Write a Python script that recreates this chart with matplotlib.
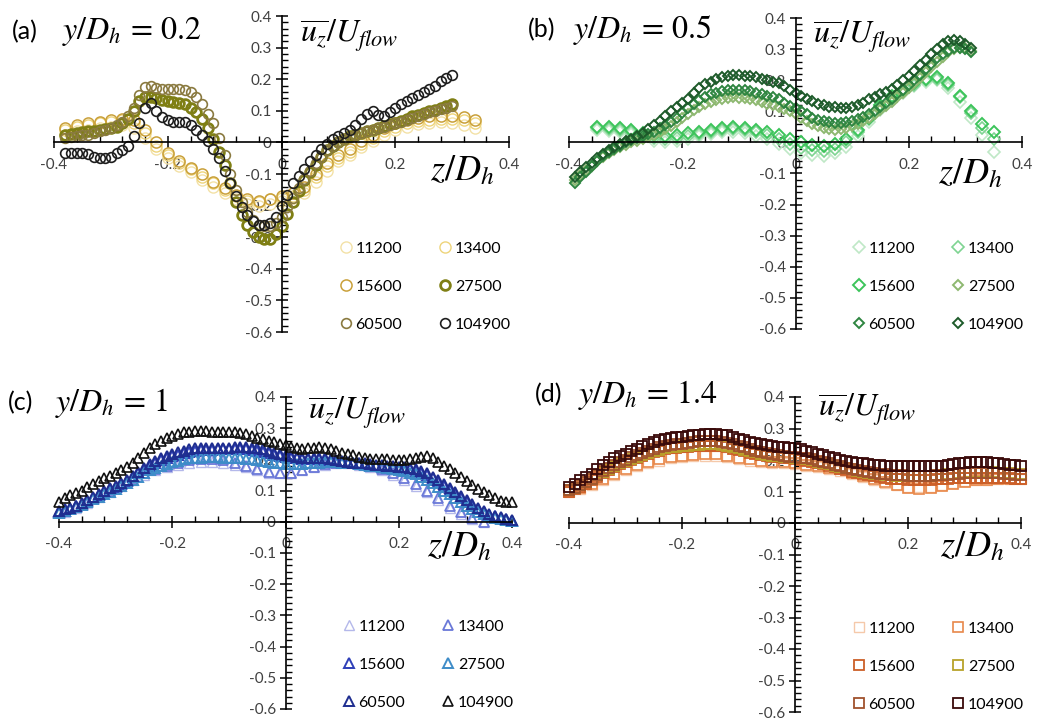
import numpy as np
import matplotlib
matplotlib.use('Agg')
import matplotlib.pyplot as plt
from matplotlib.ticker import MultipleLocator, FuncFormatter

plt.rcParams['font.family'] = ['Lato', 'DejaVu Sans']
plt.rcParams['mathtext.fontset'] = 'stix'

labels = ['11200', '13400', '15600', '27500', '60500', '104900']

# z/Dh sampling positions (every 0.01)
Z = [-0.40, -0.39, -0.38, -0.37, -0.36, -0.35, -0.34, -0.33, -0.32, -0.31,
     -0.30, -0.29, -0.28, -0.27, -0.26, -0.25, -0.24, -0.23, -0.22, -0.21,
     -0.20, -0.19, -0.18, -0.17, -0.16, -0.15, -0.14, -0.13, -0.12, -0.11,
     -0.10, -0.09, -0.08, -0.07, -0.06, -0.05, -0.04, -0.03, -0.02, -0.01,
     0.00, 0.01, 0.02, 0.03, 0.04, 0.05, 0.06, 0.07, 0.08, 0.09,
     0.10, 0.11, 0.12, 0.13, 0.14, 0.15, 0.16, 0.17, 0.18, 0.19,
     0.20, 0.21, 0.22, 0.23, 0.24, 0.25, 0.26, 0.27, 0.28, 0.29,
     0.30, 0.31, 0.32, 0.33, 0.34, 0.35, 0.36, 0.37, 0.38, 0.39, 0.40]

# ---------------- (a) y/Dh = 0.2 ----------------
za = Z[2:71]          # -0.38 .. 0.30
za_s = Z[2:75:2]      # -0.38 .. 0.34, sparse runs
a_11200 = [0.025, 0.035, 0.04, 0.045, 0.05, 0.055, 0.045, 0.015, -0.02, -0.05, -0.075, -0.095,
           -0.12, -0.14, -0.16, -0.18, -0.195, -0.2, -0.195, -0.185, -0.175, -0.16, -0.125, -0.09,
           -0.06, -0.04, -0.015, 0.005, 0.025, 0.04, 0.05, 0.058, 0.062, 0.064, 0.062, 0.055, 0.045]
a_13400 = [0.04, 0.05, 0.055, 0.06, 0.065, 0.07, 0.06, 0.03, -0.01, -0.04, -0.065, -0.085,
           -0.11, -0.13, -0.15, -0.17, -0.185, -0.19, -0.18, -0.175, -0.17, -0.15, -0.11, -0.075,
           -0.05, -0.03, -0.005, 0.015, 0.035, 0.05, 0.06, 0.068, 0.072, 0.075, 0.075, 0.07, 0.06]
a_15600 = [0.045, 0.055, 0.06, 0.065, 0.07, 0.075, 0.07, 0.04, 0.0, -0.035, -0.06, -0.08,
           -0.1, -0.125, -0.145, -0.165, -0.18, -0.185, -0.18, -0.17, -0.16, -0.14, -0.1, -0.065,
           -0.04, -0.02, 0.005, 0.025, 0.045, 0.06, 0.07, 0.078, 0.082, 0.085, 0.085, 0.08, 0.07]
a_27500 = [0.025, 0.027, 0.03, 0.032, 0.035, 0.037, 0.04, 0.042, 0.045, 0.05,
           0.06, 0.075, 0.1, 0.13, 0.145, 0.145, 0.14, 0.135, 0.13, 0.128,
           0.125, 0.12, 0.11, 0.095, 0.075, 0.045, 0.01, -0.03, -0.07, -0.13,
           -0.19, -0.23, -0.26, -0.285, -0.3, -0.307, -0.305, -0.29, -0.265, -0.225,
           -0.19, -0.155, -0.12, -0.095, -0.07, -0.045, -0.025, -0.01, 0.0, 0.012,
           0.02, 0.025, 0.03, 0.035, 0.04, 0.046, 0.052, 0.057, 0.062, 0.068,
           0.075, 0.082, 0.088, 0.093, 0.098, 0.104, 0.11, 0.115, 0.12]
a_60500 = [0.015, 0.017, 0.02, 0.022, 0.025, 0.03, 0.035, 0.04, 0.045, 0.055,
           0.065, 0.085, 0.11, 0.15, 0.175, 0.178, 0.172, 0.168, 0.168, 0.168,
           0.168, 0.165, 0.16, 0.145, 0.12, 0.09, 0.06, 0.015, -0.04, -0.1,
           -0.15, -0.19, -0.22, -0.245, -0.26, -0.265, -0.265, -0.255, -0.235, -0.205,
           -0.175, -0.145, -0.115, -0.09, -0.065, -0.045, -0.025, -0.01, 0.0, 0.01,
           0.018, 0.024, 0.03, 0.035, 0.04, 0.045, 0.05, 0.055, 0.06, 0.066,
           0.072, 0.078, 0.085, 0.09, 0.095, 0.1, 0.105, 0.11, 0.115]
a_104900 = [-0.035, -0.035, -0.035, -0.035, -0.038, -0.045, -0.05, -0.05, -0.045, -0.035,
            -0.025, -0.01, 0.02, 0.06, 0.11, 0.125, 0.1, 0.08, 0.07, 0.066,
            0.066, 0.064, 0.055, 0.04, 0.025, 0.005, -0.02, -0.05, -0.09, -0.13,
            -0.17, -0.205, -0.23, -0.25, -0.26, -0.262, -0.255, -0.235, -0.2, -0.165,
            -0.13, -0.105, -0.085, -0.06, -0.04, -0.02, -0.005, 0.01, 0.02, 0.03,
            0.04, 0.055, 0.075, 0.09, 0.1, 0.088, 0.085, 0.097, 0.11, 0.12,
            0.13, 0.14, 0.15, 0.16, 0.17, 0.18, 0.193, 0.205, 0.213]
a_colors = ['#F3E1A6', '#EED47A', '#C9A03A', '#7F7F14', '#8A7A40', '#1E1E1E']

# ---------------- (b) y/Dh = 0.5 ----------------
zb = Z[1:72]          # -0.39 .. 0.31
zb_s = Z[5:76:2]      # -0.35 .. 0.35
b_11200 = [0.04, 0.038, 0.035, 0.028, 0.015, 0.005, 0.0, 0.005, 0.012, 0.02, 0.028, 0.032,
           0.035, 0.03, 0.022, 0.01, -0.005, -0.02, -0.035, -0.042, -0.045, -0.035, -0.015, 0.02,
           0.065, 0.105, 0.14, 0.16, 0.18, 0.195, 0.2, 0.175, 0.13, 0.08, 0.025, -0.03]
b_13400 = [0.045, 0.043, 0.04, 0.035, 0.025, 0.015, 0.01, 0.015, 0.02, 0.028, 0.035, 0.04,
           0.042, 0.04, 0.033, 0.025, 0.012, -0.005, -0.018, -0.025, -0.028, -0.02, 0.0, 0.035,
           0.075, 0.115, 0.145, 0.165, 0.185, 0.2, 0.205, 0.185, 0.145, 0.095, 0.045, 0.01]
b_15600 = [0.05, 0.048, 0.045, 0.04, 0.03, 0.025, 0.022, 0.025, 0.03, 0.035, 0.04, 0.045,
           0.048, 0.045, 0.04, 0.035, 0.025, 0.012, 0.0, -0.008, -0.01, -0.005, 0.01, 0.04,
           0.08, 0.12, 0.15, 0.17, 0.19, 0.205, 0.21, 0.19, 0.15, 0.1, 0.06, 0.035]
b_27500 = [-0.12, -0.105, -0.09, -0.075, -0.06, -0.047, -0.035, -0.025, -0.015, -0.007,
           0.0, 0.006, 0.012, 0.018, 0.025, 0.033, 0.042, 0.053, 0.065, 0.078,
           0.09, 0.103, 0.115, 0.123, 0.13, 0.135, 0.14, 0.143, 0.145, 0.144,
           0.142, 0.139, 0.135, 0.13, 0.125, 0.12, 0.115, 0.108, 0.1, 0.09,
           0.08, 0.07, 0.06, 0.052, 0.045, 0.042, 0.04, 0.042, 0.045, 0.052,
           0.06, 0.07, 0.08, 0.092, 0.105, 0.117, 0.13, 0.145, 0.16, 0.175,
           0.19, 0.208, 0.225, 0.243, 0.26, 0.275, 0.29, 0.3, 0.305, 0.302, 0.295]
b_60500 = [-0.13, -0.112, -0.095, -0.077, -0.06, -0.045, -0.03, -0.02, -0.01, 0.0,
           0.008, 0.014, 0.02, 0.027, 0.035, 0.045, 0.055, 0.067, 0.08, 0.095,
           0.11, 0.122, 0.135, 0.146, 0.155, 0.16, 0.165, 0.168, 0.17, 0.17,
           0.168, 0.164, 0.16, 0.155, 0.15, 0.145, 0.138, 0.128, 0.118, 0.11,
           0.1, 0.09, 0.08, 0.073, 0.068, 0.064, 0.062, 0.063, 0.065, 0.07,
           0.075, 0.082, 0.09, 0.102, 0.115, 0.128, 0.14, 0.155, 0.17, 0.185,
           0.2, 0.218, 0.235, 0.253, 0.27, 0.283, 0.295, 0.302, 0.305, 0.3, 0.29]
b_104900 = [-0.11, -0.095, -0.08, -0.065, -0.05, -0.037, -0.025, -0.015, -0.005, 0.003,
            0.01, 0.02, 0.03, 0.042, 0.055, 0.07, 0.085, 0.1, 0.115, 0.128,
            0.14, 0.158, 0.175, 0.188, 0.195, 0.203, 0.21, 0.215, 0.218, 0.217,
            0.215, 0.213, 0.21, 0.205, 0.2, 0.195, 0.19, 0.18, 0.17, 0.16,
            0.15, 0.14, 0.133, 0.125, 0.12, 0.115, 0.113, 0.111, 0.11, 0.114,
            0.12, 0.128, 0.138, 0.147, 0.155, 0.163, 0.172, 0.185, 0.2, 0.215,
            0.23, 0.248, 0.265, 0.283, 0.3, 0.315, 0.325, 0.328, 0.325, 0.318, 0.305]
b_colors = ['#BFE8C6', '#7ED492', '#3CC45A', '#8DB870', '#2E8540', '#1D5A2A']

# ---------------- (c) y/Dh = 1 ----------------
zc = Z                # -0.40 .. 0.40
zc_s = Z[1:76:2]      # -0.39 .. 0.35
c_11200 = [0.03, 0.045, 0.06, 0.08, 0.095, 0.115, 0.135, 0.15, 0.165, 0.175, 0.183, 0.19,
           0.193, 0.193, 0.19, 0.183, 0.175, 0.165, 0.158, 0.155, 0.158, 0.165, 0.175, 0.183,
           0.187, 0.187, 0.183, 0.176, 0.165, 0.15, 0.135, 0.115, 0.095, 0.07, 0.045, 0.025, 0.008, 0.0]
c_13400 = [0.035, 0.05, 0.065, 0.085, 0.1, 0.12, 0.14, 0.155, 0.17, 0.18, 0.19, 0.198,
           0.2, 0.2, 0.198, 0.19, 0.18, 0.168, 0.16, 0.155, 0.158, 0.165, 0.175, 0.185,
           0.19, 0.19, 0.187, 0.18, 0.17, 0.155, 0.14, 0.12, 0.1, 0.075, 0.05, 0.03, 0.012, 0.0]
c_15600 = [0.03, 0.036, 0.042, 0.05, 0.057, 0.067, 0.077, 0.087, 0.097, 0.105,
           0.112, 0.122, 0.132, 0.143, 0.155, 0.167, 0.178, 0.188, 0.198, 0.205,
           0.21, 0.215, 0.22, 0.224, 0.227, 0.229, 0.23, 0.231, 0.232, 0.232,
           0.232, 0.232, 0.233, 0.232, 0.23, 0.228, 0.225, 0.22, 0.215, 0.211,
           0.208, 0.205, 0.203, 0.201, 0.2, 0.2, 0.2, 0.199, 0.197, 0.195,
           0.193, 0.19, 0.188, 0.186, 0.185, 0.182, 0.18, 0.178, 0.177, 0.175,
           0.173, 0.171, 0.168, 0.164, 0.158, 0.15, 0.14, 0.128, 0.115, 0.103,
           0.09, 0.077, 0.065, 0.052, 0.04, 0.03, 0.022, 0.017, 0.012, 0.008, 0.004]
c_27500 = [0.028, 0.034, 0.04, 0.047, 0.055, 0.063, 0.072, 0.081, 0.09, 0.097,
           0.105, 0.115, 0.125, 0.135, 0.145, 0.155, 0.165, 0.173, 0.18, 0.186,
           0.192, 0.196, 0.2, 0.203, 0.205, 0.206, 0.207, 0.207, 0.207, 0.206,
           0.205, 0.204, 0.203, 0.202, 0.2, 0.198, 0.195, 0.192, 0.19, 0.187,
           0.185, 0.185, 0.185, 0.186, 0.188, 0.189, 0.19, 0.191, 0.192, 0.191,
           0.19, 0.189, 0.187, 0.185, 0.183, 0.18, 0.178, 0.175, 0.172, 0.169,
           0.166, 0.162, 0.158, 0.152, 0.145, 0.135, 0.125, 0.113, 0.1, 0.088,
           0.075, 0.063, 0.052, 0.042, 0.032, 0.025, 0.018, 0.013, 0.008, 0.005, 0.002]
c_60500 = [0.035, 0.04, 0.045, 0.052, 0.06, 0.07, 0.08, 0.09, 0.1, 0.108,
           0.115, 0.125, 0.135, 0.148, 0.16, 0.173, 0.185, 0.195, 0.205, 0.212,
           0.218, 0.223, 0.228, 0.232, 0.235, 0.237, 0.238, 0.238, 0.238, 0.238,
           0.238, 0.239, 0.24, 0.239, 0.238, 0.235, 0.232, 0.227, 0.222, 0.218,
           0.215, 0.211, 0.208, 0.206, 0.205, 0.205, 0.205, 0.203, 0.2, 0.197,
           0.195, 0.192, 0.19, 0.188, 0.187, 0.185, 0.183, 0.181, 0.18, 0.178,
           0.177, 0.175, 0.172, 0.168, 0.163, 0.155, 0.145, 0.133, 0.12, 0.108,
           0.095, 0.082, 0.07, 0.057, 0.045, 0.035, 0.025, 0.02, 0.015, 0.01, 0.005]
c_104900 = [0.065, 0.075, 0.085, 0.093, 0.1, 0.11, 0.12, 0.13, 0.14, 0.148,
            0.155, 0.165, 0.175, 0.19, 0.205, 0.22, 0.235, 0.248, 0.26, 0.268,
            0.275, 0.282, 0.287, 0.289, 0.29, 0.29, 0.29, 0.289, 0.288, 0.288,
            0.287, 0.287, 0.285, 0.28, 0.275, 0.27, 0.265, 0.26, 0.255, 0.25,
            0.245, 0.24, 0.235, 0.233, 0.235, 0.238, 0.24, 0.237, 0.232, 0.227,
            0.222, 0.217, 0.213, 0.209, 0.205, 0.202, 0.2, 0.2, 0.2, 0.199,
            0.198, 0.198, 0.2, 0.204, 0.208, 0.21, 0.203, 0.192, 0.18, 0.168,
            0.155, 0.143, 0.13, 0.118, 0.105, 0.095, 0.085, 0.076, 0.068, 0.064, 0.062]
c_colors = ['#B4B8EA', '#6A78D8', '#2F3FB8', '#3E8CC8', '#1F2E90', '#111111']

# ---------------- (d) y/Dh = 1.4 ----------------
zd = Z
zd_s = Z[0::2]        # -0.40 .. 0.40 every 0.02
d_11200 = [0.098, 0.108, 0.122, 0.137, 0.152, 0.168, 0.18, 0.19, 0.198, 0.205, 0.208, 0.212,
           0.214, 0.213, 0.208, 0.203, 0.198, 0.194, 0.192, 0.19, 0.187, 0.182, 0.177, 0.172,
           0.166, 0.157, 0.147, 0.137, 0.128, 0.12, 0.115, 0.113, 0.115, 0.122, 0.128, 0.132,
           0.136, 0.138, 0.139, 0.14, 0.14]
d_13400 = [0.1, 0.11, 0.125, 0.14, 0.155, 0.172, 0.185, 0.195, 0.203, 0.21, 0.213, 0.217,
           0.219, 0.218, 0.212, 0.207, 0.202, 0.197, 0.195, 0.194, 0.19, 0.185, 0.18, 0.175,
           0.17, 0.16, 0.15, 0.14, 0.13, 0.12, 0.112, 0.108, 0.11, 0.118, 0.125, 0.13,
           0.135, 0.138, 0.14, 0.14, 0.14]
d_15600 = [0.1, 0.107, 0.115, 0.125, 0.135, 0.147, 0.158, 0.168, 0.178, 0.186,
           0.193, 0.2, 0.207, 0.214, 0.22, 0.225, 0.23, 0.234, 0.237, 0.239,
           0.24, 0.242, 0.244, 0.245, 0.246, 0.246, 0.245, 0.243, 0.24, 0.236,
           0.232, 0.228, 0.223, 0.219, 0.215, 0.212, 0.21, 0.208, 0.206, 0.205,
           0.203, 0.2, 0.198, 0.194, 0.19, 0.186, 0.182, 0.177, 0.172, 0.168,
           0.163, 0.159, 0.155, 0.151, 0.148, 0.145, 0.143, 0.141, 0.14, 0.139,
           0.138, 0.137, 0.137, 0.137, 0.138, 0.139, 0.14, 0.141, 0.142, 0.142,
           0.143, 0.143, 0.144, 0.144, 0.144, 0.144, 0.143, 0.143, 0.142, 0.141, 0.14]
d_27500 = [0.105, 0.112, 0.12, 0.13, 0.14, 0.151, 0.162, 0.172, 0.182, 0.19,
           0.197, 0.204, 0.21, 0.217, 0.223, 0.228, 0.233, 0.237, 0.24, 0.242,
           0.244, 0.246, 0.248, 0.249, 0.25, 0.25, 0.25, 0.248, 0.245, 0.241,
           0.237, 0.232, 0.228, 0.224, 0.22, 0.217, 0.214, 0.212, 0.21, 0.208,
           0.207, 0.205, 0.202, 0.199, 0.195, 0.191, 0.187, 0.182, 0.178, 0.174,
           0.17, 0.166, 0.163, 0.16, 0.157, 0.155, 0.153, 0.151, 0.15, 0.149,
           0.148, 0.148, 0.148, 0.149, 0.15, 0.152, 0.153, 0.155, 0.157, 0.159,
           0.16, 0.161, 0.162, 0.162, 0.162, 0.161, 0.16, 0.159, 0.158, 0.157, 0.155]
d_60500 = [0.105, 0.112, 0.12, 0.13, 0.14, 0.152, 0.165, 0.175, 0.185, 0.193,
           0.2, 0.208, 0.215, 0.223, 0.23, 0.235, 0.24, 0.244, 0.248, 0.25,
           0.252, 0.255, 0.257, 0.259, 0.26, 0.26, 0.26, 0.258, 0.255, 0.25,
           0.245, 0.24, 0.235, 0.23, 0.225, 0.221, 0.218, 0.215, 0.212, 0.211,
           0.21, 0.207, 0.205, 0.202, 0.198, 0.194, 0.19, 0.185, 0.18, 0.176,
           0.172, 0.168, 0.165, 0.161, 0.158, 0.156, 0.155, 0.153, 0.152, 0.151,
           0.15, 0.15, 0.15, 0.15, 0.15, 0.151, 0.152, 0.153, 0.155, 0.157,
           0.158, 0.159, 0.16, 0.16, 0.16, 0.159, 0.158, 0.157, 0.155, 0.153, 0.152]
d_104900 = [0.115, 0.125, 0.135, 0.145, 0.155, 0.17, 0.185, 0.195, 0.205, 0.213,
            0.22, 0.228, 0.235, 0.243, 0.25, 0.256, 0.262, 0.266, 0.27, 0.272,
            0.273, 0.276, 0.278, 0.28, 0.282, 0.283, 0.282, 0.28, 0.278, 0.273,
            0.268, 0.263, 0.258, 0.254, 0.25, 0.247, 0.244, 0.242, 0.24, 0.239,
            0.238, 0.234, 0.23, 0.225, 0.22, 0.215, 0.21, 0.205, 0.2, 0.197,
            0.195, 0.192, 0.19, 0.187, 0.185, 0.183, 0.182, 0.181, 0.18, 0.18,
            0.18, 0.18, 0.18, 0.18, 0.18, 0.181, 0.182, 0.185, 0.188, 0.19,
            0.192, 0.193, 0.194, 0.194, 0.194, 0.192, 0.19, 0.187, 0.185, 0.183, 0.182]
d_colors = ['#F5C9AA', '#E8884A', '#CC5F28', '#B8A22A', '#A0522D', '#3A0A0A']

W, H = 1038, 722
fig = plt.figure(figsize=(W / 100, H / 100), dpi=100)


def fmt(v, pos):
    if abs(v) < 1e-9:
        return '0'
    return f'{v:.1f}'


def panel(rect, series, colors, marker, sizes, widths):
    ax = fig.add_axes(rect)
    for (z, v), c, lab, ms, lw in zip(series, colors, labels, sizes, widths):
        ax.plot(z, v, ls='none', marker=marker, ms=ms, mfc='none', mec=c, mew=lw,
                label=lab, clip_on=False)
    ax.set_xlim(-0.4, 0.4)
    ax.set_ylim(-0.6, 0.4)
    ax.spines['left'].set_position(('data', 0))
    ax.spines['bottom'].set_position(('data', 0))
    ax.spines['top'].set_visible(False)
    ax.spines['right'].set_visible(False)
    for s in ('left', 'bottom'):
        ax.spines[s].set_linewidth(1.2)
    ax.xaxis.set_major_locator(MultipleLocator(0.2))
    ax.xaxis.set_minor_locator(MultipleLocator(0.04))
    ax.yaxis.set_major_locator(MultipleLocator(0.1))
    ax.yaxis.set_minor_locator(MultipleLocator(0.02))
    ax.xaxis.set_major_formatter(FuncFormatter(fmt))
    ax.yaxis.set_major_formatter(FuncFormatter(fmt))
    ax.tick_params(which='major', direction='inout', length=8, width=1.1,
                   labelsize=11, labelcolor='#404040')
    ax.tick_params(which='minor', direction='in', length=4, width=1.0)
    ax.tick_params(axis='x', which='major', pad=7)
    ax.tick_params(axis='y', which='major', pad=3)
    ax.patch.set_alpha(0)
    return ax


def add_texts(tag, tpos, yval, mx, upos, zpos):
    fig.text(tpos[0] / W, 1 - tpos[1] / H, tag, fontsize=18, va='center', ha='left')
    fig.text(mx / W, 1 - tpos[1] / H, r'$y/D_h\,=\,' + yval + '$',
             fontsize=23, va='center', ha='left')
    fig.text(upos[0] / W, 1 - upos[1] / H, r'$\overline{u_z}/U_{flow}$',
             fontsize=23, va='center', ha='left')
    fig.text(zpos[0] / W, 1 - zpos[1] / H, r'$z/D_h$', fontsize=26, va='center', ha='left')


def add_legend(ax, right, bottom):
    h, l = ax.get_legend_handles_labels()
    order = [0, 2, 4, 1, 3, 5]   # fill rows: 11200 13400 / 15600 27500 / 60500 104900
    ax.legend([h[i] for i in order], [l[i] for i in order], ncol=2, loc='lower right',
              bbox_to_anchor=(right / W, 1 - bottom / H),
              bbox_transform=fig.transFigure, frameon=False, fontsize=11.5,
              handletextpad=0.1, columnspacing=2.2, labelspacing=1.5,
              handlelength=1.0, borderpad=0, borderaxespad=0)


# (a)
ax_a = panel([54 / W, 1 - 332 / H, 455 / W, 316 / H],
             [(za_s, a_11200), (za_s, a_13400), (za_s, a_15600), (za, a_27500),
              (za, a_60500), (za, a_104900)],
             a_colors, 'o', [8, 8, 8, 7, 7, 7], [1.0, 1.0, 1.1, 2.0, 1.2, 1.2])
add_texts('(a)', (12, 32), '0.2', 62, (300, 36), (430, 170))
add_legend(ax_a, 511, 332)

# (b)
ax_b = panel([569 / W, 1 - 329 / H, 453 / W, 311 / H],
             [(zb_s, b_11200), (zb_s, b_13400), (zb_s, b_15600), (zb, b_27500),
              (zb, b_60500), (zb, b_104900)],
             b_colors, 'D', [6.5, 6.5, 6.5, 5.5, 5.5, 5.5], [1.2, 1.2, 1.4, 1.4, 1.4, 1.4])
add_texts('(b)', (528, 30), '0.5', 573, (813, 37), (938, 173))
add_legend(ax_b, 1024, 332)

# (c)
ax_c = panel([59 / W, 1 - 709 / H, 453 / W, 312 / H],
             [(zc_s, c_11200), (zc_s, c_13400), (zc, c_15600), (zc, c_27500),
              (zc, c_60500), (zc, c_104900)],
             c_colors, '^', [7.5, 7.5, 6.5, 6.5, 6.5, 6.5], [1.0, 1.3, 1.4, 1.4, 1.4, 1.2])
add_texts('(c)', (8, 403), '1', 55, (308, 413), (427, 546))
add_legend(ax_c, 514, 710)

# (d)
ax_d = panel([569 / W, 1 - 712 / H, 452 / W, 315 / H],
             [(zd_s, d_11200), (zd_s, d_13400), (zd, d_15600), (zd, d_27500),
              (zd, d_60500), (zd, d_104900)],
             d_colors, 's', [7.5, 7.5, 6.5, 6.5, 6.5, 6.5], [1.0, 1.2, 1.3, 1.3, 1.3, 1.3])
add_texts('(d)', (535, 395), '1.4', 578, (818, 410), (940, 546))
add_legend(ax_d, 1024, 712)

fig.savefig('out.png', dpi=100)
